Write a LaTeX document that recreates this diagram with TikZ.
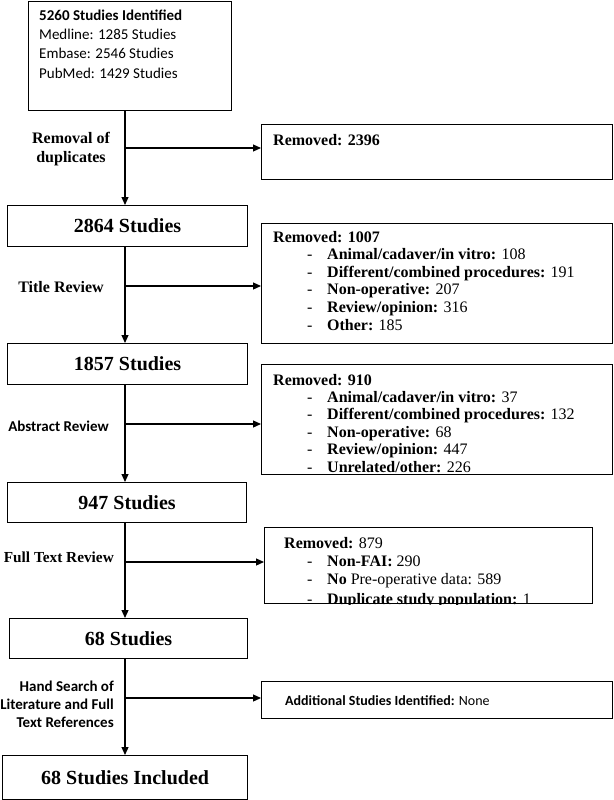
\documentclass[tikz,border=0pt]{standalone}
\usepackage{fontspec}
\setmainfont{Liberation Serif}
\newfontfamily\calib{Carlito}
\usetikzlibrary{arrows.meta}
\newcommand\litem[1]{\hspace*{34pt}\makebox[20pt][l]{-}#1}
\begin{document}
\begin{tikzpicture}[x=1pt,y=-1pt,
  box/.style={draw, line width=1.2pt, anchor=north west, inner sep=0pt},
  bigtxt/.style={font=\bfseries\fontsize{20}{24}\selectfont},
  link/.style={line width=1.2pt, -{Triangle[length=8pt,width=7pt]}},
  txt/.style={anchor=base west, inner sep=0pt, font=\fontsize{16}{18}\selectfont},
  sanstxt/.style={anchor=base west, inner sep=0pt, font=\calib\fontsize{15}{18}\selectfont},
  lbl/.style={inner sep=0pt, font=\bfseries\fontsize{16}{18}\selectfont},
  slbl/.style={inner sep=0pt, font=\calib\bfseries\fontsize{15}{18}\selectfont}]
\useasboundingbox (0,0) rectangle (613,800);

% main column boxes
\node[box, minimum width=203pt, minimum height=109pt] (b1) at (28,1) {};
\node[box, bigtxt, minimum width=240pt, minimum height=41pt] (b2) at (7,205) {2864 Studies};
\node[box, bigtxt, minimum width=240pt, minimum height=41pt] (b3) at (7,343) {1857 Studies};
\node[box, bigtxt, minimum width=239pt, minimum height=40pt] (b4) at (7,482) {947 Studies};
\node[box, bigtxt, minimum width=238pt, minimum height=40pt] (b5) at (9,618) {68 Studies};
\node[box, bigtxt, minimum width=245pt, minimum height=44pt] (b6) at (2,755) {68 Studies Included};

% side boxes
\node[box, minimum width=351pt, minimum height=55pt] (r1) at (261,124) {};
\node[box, minimum width=351pt, minimum height=120pt] (r2) at (261,223) {};
\node[box, minimum width=351pt, minimum height=110pt] (r3) at (261,364) {};
\node[box, minimum width=328pt, minimum height=76pt] (r4) at (264,527) {};
\node[box, minimum width=351pt, minimum height=37pt] (r5) at (261,681) {};

% box 1 text
\node[sanstxt] (b1a) at (39,21) {\bfseries 5260 Studies Identified};
\node[sanstxt] (b1b) at (39,40) {Medline: 1285 Studies};
\node[sanstxt] (b1c) at (39,59) {Embase: 2546 Studies};
\node[sanstxt] (b1d) at (39,78) {PubMed: 1429 Studies};

% r1 text
\node[txt] (r1a) at (273,145) {\textbf{Removed: 2396}};

% r2 text
\node[txt] (r2a) at (273,242) {\textbf{Removed: 1007}};
\node[txt] (r2b) at (273,259.6) {\litem{\textbf{Animal/cadaver/in vitro:} 108}};
\node[txt] (r2c) at (273,277.2) {\litem{\textbf{Different/combined procedures:} 191}};
\node[txt] (r2d) at (273,294.8) {\litem{\textbf{Non-operative:} 207}};
\node[txt] (r2e) at (273,312.4) {\litem{\textbf{Review/opinion:} 316}};
\node[txt] (r2f) at (273,330) {\litem{\textbf{Other:} 185}};

% r3 text
\node[txt] (r3a) at (273,385) {\textbf{Removed: 910}};
\node[txt] (r3b) at (273,402.4) {\litem{\textbf{Animal/cadaver/in vitro:} 37}};
\node[txt] (r3c) at (273,419.8) {\litem{\textbf{Different/combined procedures:} 132}};
\node[txt] (r3d) at (273,437.2) {\litem{\textbf{Non-operative:} 68}};
\node[txt] (r3e) at (273,454.6) {\litem{\textbf{Review/opinion:} 447}};
\node[txt] (r3f) at (273,472) {\litem{\textbf{Unrelated/other:} 226}};

% r4 text (last line cut by the frame)
\begin{scope}
\clip (r4.north west) rectangle (r4.south east);
\node[txt] (r4a) at (284,548) {\textbf{Removed:} 879};
\node[txt] (r4b) at (284,566) {\hspace*{-11pt}\litem{\textbf{Non-FAI:} 290}};
\node[txt] (r4c) at (284,584) {\hspace*{-11pt}\litem{\textbf{No} Pre-operative data: 589}};
\node[txt] (r4d) at (284,604.5) {\hspace*{-11pt}\litem{\textbf{Duplicate study population:} 1}};
\end{scope}

% r5 text
\node[sanstxt, font=\calib\fontsize{14}{17}\selectfont] (r5a) at (285,705) {\textbf{Additional Studies Identified:} None};

% step labels
\node[lbl, align=center, anchor=base] (l1) at (71,162) {Removal of\\[1pt]duplicates};
\node[lbl, anchor=base east] (l2) at (104,292) {Title Review};
\node[slbl, anchor=base east] (l3) at (109,431) {Abstract Review};
\node[lbl, anchor=base east, font=\bfseries\fontsize{15.3}{18}\selectfont] (l4) at (114,562) {Full Text Review};
\node[slbl, anchor=base east] (l5a) at (114,691) {Hand Search of};
\node[slbl, anchor=base east] (l5b) at (114,709) {Literature and Full};
\node[slbl, anchor=base east] (l5c) at (114,727) {Text References};

% junctions on the trunk
\coordinate (j1) at (125,148);
\coordinate (j2) at (125,286);
\coordinate (j3) at (125,424);
\coordinate (j4) at (125,562);
\coordinate (j5) at (125,698);

% connectors
\draw[link] (b1.south -| j1) -- (b2.north -| j1);
\draw[link] (b2.south -| j2) -- (b3.north -| j2);
\draw[link] (b3.south -| j3) -- (b4.north -| j3);
\draw[link] (b4.south -| j4) -- (b5.north -| j4);
\draw[link] (b5.south -| j5) -- (b6.north -| j5);
\draw[link] (j1) -- (j1 -| r1.west);
\draw[link] (j2) -- (j2 -| r2.west);
\draw[link] (j3) -- (j3 -| r3.west);
\draw[link] (j4) -- (j4 -| r4.west);
\draw[link] (j5) -- (j5 -| r5.west);
\end{tikzpicture}
\end{document}
